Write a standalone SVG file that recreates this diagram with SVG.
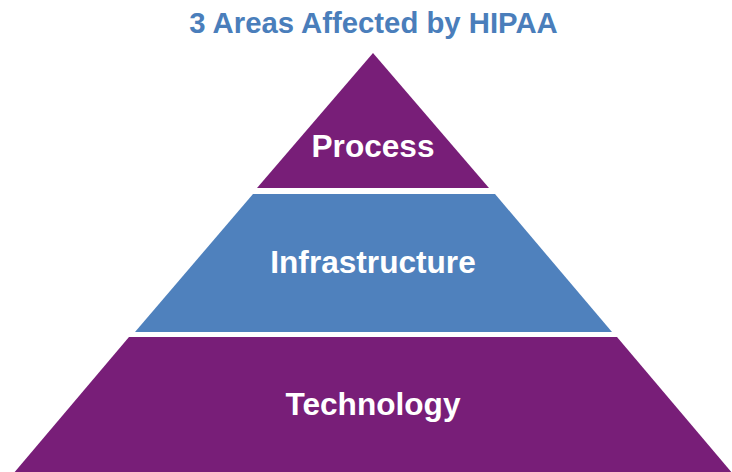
<svg xmlns="http://www.w3.org/2000/svg" width="732" height="472" viewBox="0 0 732 472">
  <style>
    .purple { fill: #781E78; }
    .blue { fill: #4F81BD; }
    .label { font-family: "Liberation Sans", Arial, sans-serif; font-weight: bold; fill: #FFFFFF; text-anchor: middle; font-size: 31.6px; }
    .title { font-family: "Liberation Sans", Arial, sans-serif; font-weight: bold; fill: #4A7EBB; text-anchor: middle; font-size: 29.3px; }
  </style>
  <rect width="732" height="472" fill="#FFFFFF"/>
  <text class="title" x="373.5" y="33">3 Areas Affected by HIPAA</text>
  <g id="process">
    <polygon class="purple" points="373,53 489,188 257,188"/>
    <text class="label" x="373" y="157">Process</text>
  </g>
  <g id="infrastructure">
    <polygon class="blue" points="253,194 495,194 612,332 135,332"/>
    <text class="label" x="373" y="273">Infrastructure</text>
  </g>
  <g id="technology">
    <polygon class="purple" points="129,337 617,337 733,474 13,474"/>
    <text class="label" x="373" y="415">Technology</text>
  </g>
  <g id="connectors"/>
</svg>
